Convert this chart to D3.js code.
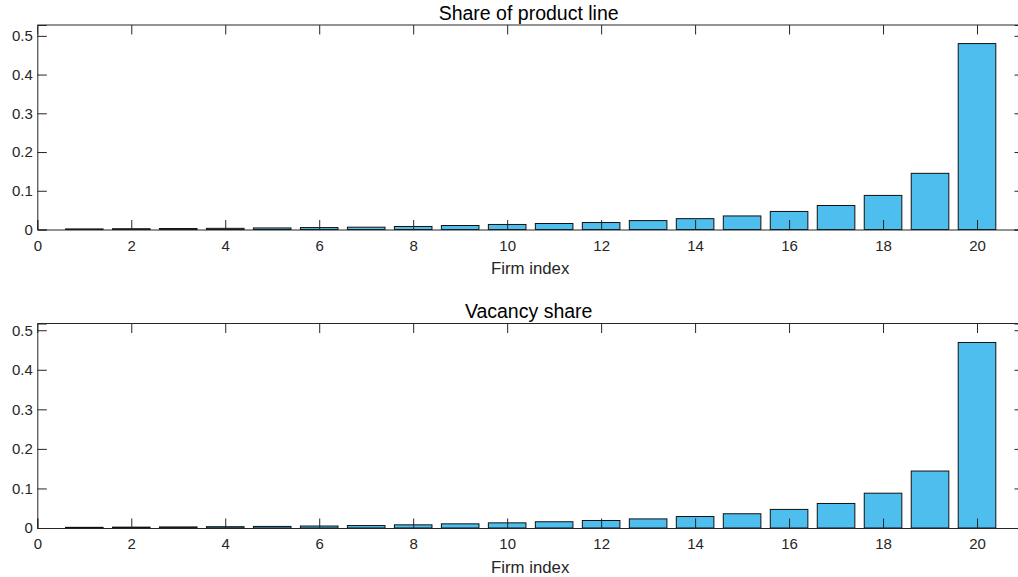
<!DOCTYPE html>
<html><head><meta charset="utf-8">
<script src="https://cdn.jsdelivr.net/npm/d3@7"></script>
<style>
html,body{margin:0;padding:0;background:#fff;overflow:hidden;}
svg{display:block;font-family:"Liberation Sans",Arial,sans-serif;}
</style></head>
<body>
<svg id="chart" width="1018" height="577"></svg>
<script>
const firms = d3.range(1, 21);
const productShare = [0.0015,0.002,0.0025,0.003,0.004,0.005,0.006,0.0078,0.0103,0.013,0.0155,0.018,0.023,0.028,0.035,0.0466,0.062,0.088,0.145,0.48];
const vacancyShare = [0.0017,0.0022,0.0027,0.0033,0.004,0.005,0.0062,0.008,0.0105,0.013,0.0158,0.019,0.023,0.029,0.036,0.047,0.062,0.088,0.144,0.469];
const xTicks = [0,2,4,6,8,10,12,14,16,18,20];
const yTicks = [0,0.1,0.2,0.3,0.4,0.5];
const titles = ["Share of product line", "Vacancy share"];
const xLabel = "Firm index";

const svg = d3.select("#chart");
const axColor = "#262626";
const panels = [
  {data: productShare, title: titles[0], top: 25, bottom: 229.5, ymax: 0.528},
  {data: vacancyShare, title: titles[1], top: 323.5, bottom: 528, ymax: 0.517}
];
const left = 37.3, right = 1024;
const x = d3.scaleLinear().domain([0, 21]).range([left, right]);

panels.forEach(p => {
  const y = d3.scaleLinear().domain([0, p.ymax]).range([p.bottom, p.top]);
  const g = svg.append("g");
  const bw = x(0.8) - x(0);
  g.selectAll("rect.bar").data(p.data).enter().append("rect")
    .attr("class","bar")
    .attr("x", (d,i) => x(firms[i]) - bw/2)
    .attr("y", d => y(d))
    .attr("width", bw)
    .attr("height", d => y(0) - y(d))
    .attr("fill", "#4DBEEE")
    .attr("stroke", "#111")
    .attr("stroke-width", 1);

  const tl = 9.5;
  const xb = g.append("g").attr("transform", `translate(0,${p.bottom})`)
    .call(d3.axisBottom(x).tickValues(xTicks).tickSize(-tl).tickPadding(10.5).tickFormat(d3.format("d")));
  const xt = g.append("g").attr("transform", `translate(0,${p.top})`)
    .call(d3.axisTop(x).tickValues(xTicks).tickSize(-tl).tickFormat(""));
  const yl = g.append("g").attr("transform", `translate(${left},0)`)
    .call(d3.axisLeft(y).tickValues(yTicks).tickSize(-tl).tickPadding(4.5).tickFormat(d => d === 0 ? "0" : d3.format(".1f")(d)));
  const yr = g.append("g").attr("transform", `translate(${right},0)`)
    .call(d3.axisRight(y).tickValues(yTicks).tickSize(-tl).tickFormat(""));
  [xb, xt, yl, yr].forEach(a => {
    a.attr("font-size", null).attr("font-family", null);
    a.selectAll("path.domain").attr("stroke", axColor).attr("stroke-width", 1);
    a.selectAll(".tick line").attr("stroke", axColor).attr("stroke-width", 1);
    a.selectAll("text").attr("fill", axColor).style("font-size", "15px").style("font-family", "Liberation Sans, Arial, sans-serif");
  });
  xt.selectAll("path.domain").remove();
  g.append("line").attr("x1", left).attr("x2", right).attr("y1", p.top).attr("y2", p.top).attr("stroke", axColor);

  g.append("text").attr("x", (left + right)/2 - 2).attr("y", p.top - 5.5)
    .attr("text-anchor","middle").attr("fill","#000").style("font-size","19.5px").text(p.title);
  g.append("text").attr("x", (left + right)/2 - 0.5).attr("y", p.bottom + 44.5)
    .attr("text-anchor","middle").attr("fill",axColor).style("font-size","16.8px").text(xLabel);
});
</script>
</body></html>
